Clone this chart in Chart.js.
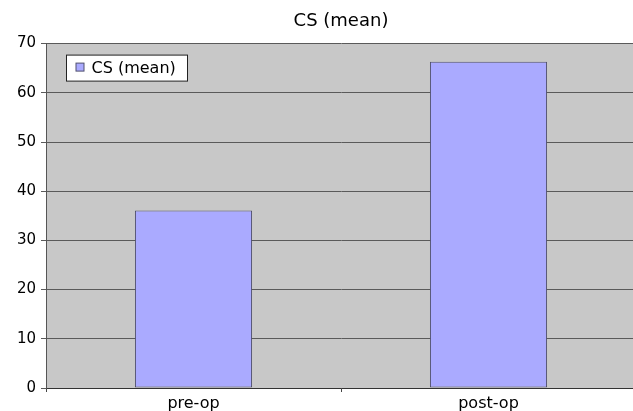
<!DOCTYPE html>
<html>
<head>
<meta charset="utf-8">
<script src="https://cdn.jsdelivr.net/npm/chart.js@4.4.1/dist/chart.umd.min.js"></script>
<style>
  html, body { margin: 0; padding: 0; background: #fff; overflow: hidden; }
  canvas { display: block; }
</style>
</head>
<body>
<canvas id="chart" width="636" height="411"></canvas>
<script>
// Mean CS score before and after the operation
const categories = ['pre-op', 'post-op'];
const csMean = [36.1, 66.3];
const seriesName = 'CS (mean)';
const chartTitle = 'CS (mean)';
const yTicks = [0, 10, 20, 30, 40, 50, 60, 70];

const FONT = "'DejaVu Sans', Verdana, sans-serif";
const BAR_FILL = 'rgb(170,170,255)';
const BAR_EDGE = 'rgb(80,80,110)';

// Grey panel behind the plot
const plotBackground = {
  id: 'plotBackground',
  beforeDraw(chart) {
    const { ctx, chartArea: a } = chart;
    ctx.save();
    ctx.fillStyle = 'rgb(200,200,200)';
    ctx.fillRect(a.left, a.top, a.right - a.left, a.bottom - a.top);
    ctx.restore();
  }
};

// Boxed legend sitting inside the plot, top-left
const boxedLegend = {
  id: 'boxedLegend',
  afterDraw(chart) {
    const { ctx, chartArea: a } = chart;
    const ds = chart.data.datasets[0];
    const x = a.left + 20.5, y = a.top + 11.5, w = 121, h = 26;
    ctx.save();
    ctx.fillStyle = '#fff';
    ctx.fillRect(x, y, w, h);
    ctx.strokeStyle = '#222';
    ctx.lineWidth = 1;
    ctx.strokeRect(x, y, w, h);
    ctx.fillStyle = ds.backgroundColor;
    ctx.fillRect(x + 9.5, y + 8, 8, 8);
    ctx.strokeStyle = BAR_EDGE;
    ctx.strokeRect(x + 9.5, y + 8, 8, 8);
    ctx.fillStyle = '#000';
    ctx.font = '16px ' + FONT;
    ctx.textBaseline = 'middle';
    ctx.textAlign = 'left';
    ctx.fillText(ds.label, x + 25, y + h / 2 + 1);
    ctx.restore();
  }
};

new Chart(document.getElementById('chart'), {
  type: 'bar',
  data: {
    labels: categories,
    datasets: [{
      label: seriesName,
      data: csMean,
      backgroundColor: BAR_FILL,
      borderColor: BAR_EDGE,
      borderWidth: 1,
      borderSkipped: false,
      barPercentage: 0.397,
      categoryPercentage: 1.0
    }]
  },
  options: {
    responsive: false,
    animation: false,
    layout: { padding: { left: 0, right: 0, top: 0, bottom: 0 } },
    plugins: {
      legend: { display: false },
      tooltip: { enabled: false },
      title: {
        display: true,
        text: chartTitle,
        fullSize: false,
        color: '#000',
        font: { family: FONT, size: 18, weight: 'normal' },
        padding: { top: 11, bottom: 11 }
      }
    },
    scales: {
      x: {
        offset: true,
        afterFit(scale) { scale.height = 23; },
        grid: {
          display: true,
          drawOnChartArea: false,
          drawTicks: true,
          tickLength: 4,
          color: '#444',
          offset: true
        },
        border: { display: true, color: '#333', width: 1 },
        ticks: {
          color: '#000',
          font: { family: FONT, size: 16 },
          padding: 2,
          maxRotation: 0
        }
      },
      y: {
        min: 0,
        max: 70,
        afterFit(scale) { scale.width = 46; },
        afterBuildTicks(scale) { scale.ticks = yTicks.map(v => ({ value: v })); },
        grid: {
          color: '#5a5a5a',
          lineWidth: 1,
          tickLength: 5
        },
        border: { display: true, color: '#555', width: 1 },
        ticks: {
          color: '#000',
          font: { family: FONT, size: 15 },
          padding: 5
        }
      }
    }
  },
  plugins: [plotBackground, boxedLegend]
});
</script>
</body>
</html>
